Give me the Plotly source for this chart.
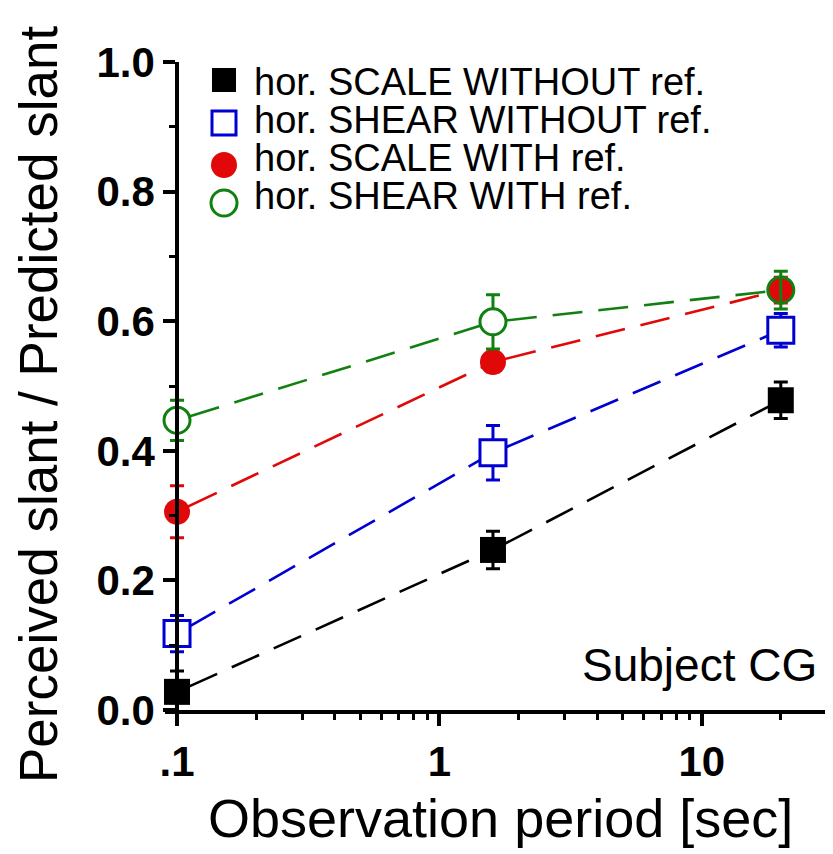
import plotly.graph_objects as go

# ---- data ----
periods = [0.1, 1.6, 20.0]
series_names = ["hor. SCALE WITHOUT ref.", "hor. SHEAR WITHOUT ref.",
                "hor. SCALE WITH ref.", "hor. SHEAR WITH ref."]
scale_without = [0.028, 0.247, 0.478]
scale_without_err = [0.032, 0.029, 0.028]
shear_without = [0.118, 0.397, 0.586]
shear_without_err = [0.028, 0.042, 0.026]
scale_with = [0.306, 0.537, 0.648]
scale_with_err = [0.040, 0.015, 0.020]
shear_with = [0.447, 0.599, 0.648]
shear_with_err = [0.031, 0.042, 0.029]

x_tickvals = [0.1, 1, 10]
x_ticktext = [".1", "1", "10"]
y_tickvals = [0.0, 0.2, 0.4, 0.6, 0.8, 1.0]
y_ticktext = ["0.0", "0.2", "0.4", "0.6", "0.8", "1.0"]

BLACK = "#000000"
BLUE = "#0000d0"
RED = "#e00808"
GREEN = "#108010"

styles = [
    dict(y=scale_without, e=scale_without_err, color=BLACK, symbol="square", fill=BLACK, lw=0),
    dict(y=shear_without, e=shear_without_err, color=BLUE, symbol="square", fill="white", lw=3),
    dict(y=scale_with, e=scale_with_err, color=RED, symbol="circle", fill=RED, lw=0),
    dict(y=shear_with, e=shear_with_err, color=GREEN, symbol="circle",
         fill=["white", "white", "rgba(0,0,0,0)"], lw=3),
]

OFF = 8  # page body margin of the browser
W, H = 833 - OFF, 854 - OFF
L, R, T, B = 165 - OFF, 0, 62 - OFF, 854 - 710
PW, PH = W - L - R, H - T - B

def px(xp):
    return (xp - OFF - L) / PW

def py(yp):
    return (H - B - (yp - OFF)) / PH

dash = "44px,16px," + ",".join(["30px,16px"] * 14)

fig = go.Figure()
# line segments (beneath markers)
for st in styles:
    for i in range(len(periods) - 1):
        fig.add_trace(go.Scatter(
            x=periods[i:i + 2], y=st["y"][i:i + 2], mode="lines",
            line=dict(color=st["color"], width=2.6, dash=dash),
            showlegend=False, hoverinfo="skip", cliponaxis=False))
# markers + error bars
for name, st in zip(series_names, styles):
    fig.add_trace(go.Scatter(
        x=periods, y=st["y"], mode="markers", name=name,
        marker=dict(symbol=st["symbol"], size=26, color=st["fill"],
                    line=dict(color=st["color"], width=st["lw"])),
        error_y=dict(type="data", array=st["e"], visible=True,
                     color=st["color"], thickness=3, width=7),
        showlegend=False, cliponaxis=False))

xmin_log = -1 - 12 / 262
xmax_log = 1 + (833 - 702) / 262

fig.update_layout(
    width=W, height=H,
    margin=dict(l=L, r=R, t=T, b=B, pad=0),
    paper_bgcolor="white", plot_bgcolor="white",
    showlegend=False,
    xaxis=dict(type="log", range=[xmin_log, xmax_log], domain=[0, 1],
               showgrid=False, zeroline=False, showline=True, linecolor="black",
               linewidth=3.5, ticks="outside", ticklen=12, tickwidth=3.5,
               tickcolor="black", tickmode="array", tickvals=x_tickvals,
               ticktext=x_ticktext,
               tickfont=dict(family="Liberation Sans", size=42, color="black", weight="bold"),
               minor=dict(ticks="outside", ticklen=6, tickwidth=3, tickcolor="black",
                          tickvals=[0.2, 0.3, 0.4, 0.5, 0.6, 0.7, 0.8, 0.9,
                                    2, 3, 4, 5, 6, 7, 8, 9, 20, 30])),
    yaxis=dict(range=[0, 1.0], anchor="free", position=px(177),
               showgrid=False, zeroline=False, showline=True, linecolor="black",
               linewidth=3.5, ticks="outside", ticklen=12, tickwidth=3.5,
               tickcolor="black", tickmode="array", tickvals=y_tickvals,
               ticktext=y_ticktext,
               tickfont=dict(family="Liberation Sans", size=42, color="black", weight="bold"),
               minor=dict(ticks="outside", ticklen=6, tickwidth=3, tickcolor="black",
                          tickvals=[0.1, 0.3, 0.5, 0.7, 0.9])),
)

# axis titles
fig.add_annotation(text="Perceived slant / Predicted slant", xref="paper", yref="paper",
                   x=px(38), y=py(405), textangle=-90, showarrow=False,
                   xanchor="center", yanchor="middle",
                   font=dict(family="Liberation Sans", size=53, color="black"))
fig.add_annotation(text="Observation period [sec]", xref="paper", yref="paper",
                   x=px(500), y=py(818), showarrow=False,
                   xanchor="center", yanchor="middle",
                   font=dict(family="Liberation Sans", size=54, color="black"))
fig.add_annotation(text="Subject CG", xref="paper", yref="paper",
                   x=px(819), y=py(665), showarrow=False,
                   xanchor="right", yanchor="middle",
                   font=dict(family="Liberation Sans", size=46, color="black"))

# manual legend
leg_text_y = [82, 120, 158, 196]
leg_mark_y = [80, 123, 165, 203]
leg_mx = 224
for name, st, ty, my in zip(series_names, styles, leg_text_y, leg_mark_y):
    fig.add_annotation(text=name, xref="paper", yref="paper", x=px(252), y=py(ty),
                       showarrow=False, xanchor="left", yanchor="middle",
                       font=dict(family="Liberation Sans", size=38, color="black"))
    fill = st["fill"] if isinstance(st["fill"], str) else "white"
    half = 12 if st["symbol"] == "square" else 13
    fig.add_shape(type="rect" if st["symbol"] == "square" else "circle",
                  xref="paper", yref="paper", xsizemode="pixel", ysizemode="pixel",
                  xanchor=px(leg_mx), yanchor=py(my),
                  x0=-half, x1=half, y0=-half, y1=half,
                  fillcolor=fill,
                  line=dict(color=st["color"], width=3 if st["lw"] else 0))

fig.write_html("out.html")
